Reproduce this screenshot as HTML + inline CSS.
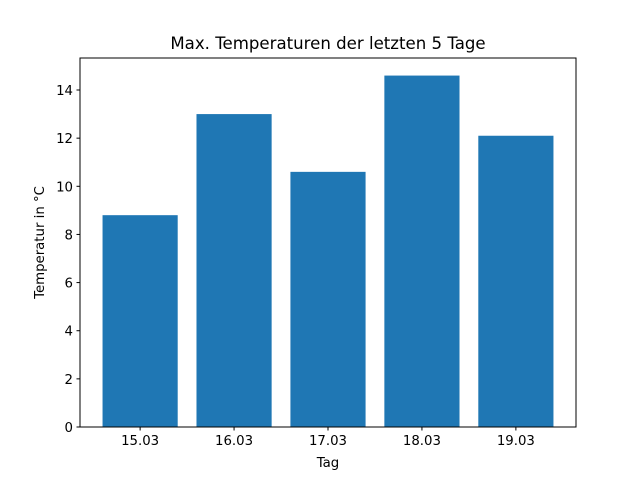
<!DOCTYPE html>
<html><head><meta charset="utf-8"><style>
body{margin:0;background:#fff;}
svg{display:block;font-family:"DejaVu Sans","Liberation Sans",sans-serif;}
</style></head><body>
<svg id="chart" width="640" height="480">
<rect width="640" height="480" fill="#fff"/>
<text x="328" y="49" text-anchor="middle" font-size="16.6">Max. Temperaturen der letzten 5 Tage</text>
<text x="328" y="467" text-anchor="middle" font-size="13.3">Tag</text>
<text transform="translate(44,242.5) rotate(-90)" text-anchor="middle" font-size="13.3">Temperatur in °C</text>
<g id="bars"></g><g id="ticks"></g>
<rect x="80" y="58" width="496" height="369" fill="none" stroke="#000" stroke-width="1"/>
</svg>
<script>
const categories = ["15.03","16.03","17.03","18.03","19.03"];
const values = [8.8, 13.0, 10.6, 14.6, 12.1];
const yTicks = [0,2,4,6,8,10,12,14];
const L=80,R=576,T=58,B=427;
const xmin=-0.64,xmax=categories.length-1+0.64,ymax=Math.max(...values)*1.05;
const xs=v=>L+(v-xmin)/(xmax-xmin)*(R-L);
const ys=v=>B-v/ymax*(B-T);
const NS="http://www.w3.org/2000/svg";
const bars=document.getElementById('bars'),ticks=document.getElementById('ticks');
function mk(tag,attrs,parent){const e=document.createElementNS(NS,tag);for(const k in attrs)e.setAttribute(k,attrs[k]);parent.appendChild(e);return e;}
categories.forEach((c,i)=>{
 const x0=xs(i-0.4),x1=xs(i+0.4);
 const r=mk('rect',{x:x0,y:ys(values[i]),width:x1-x0,height:B-ys(values[i]),fill:'#1f77b4'},bars);
 
 
 const cx=xs(i);
 const l=mk('line',{x1:cx,x2:cx,y1:B,y2:B+3.5,stroke:'#000'},ticks);
 
 
 const t=mk('text',{x:cx,y:B+18,'text-anchor':'middle','font-size':'13.3'},ticks);
 t.textContent=c;
 
 
});
yTicks.forEach(v=>{
 const y=ys(v);
 const l=mk('line',{x1:L-3.5,x2:L,y1:y,y2:y,stroke:'#000'},ticks);
 
 
 const t=mk('text',{x:L-7,y:y+5,'text-anchor':'end','font-size':'13.3'},ticks);
 t.textContent=v;
 
 
});
</script>
</body></html>
